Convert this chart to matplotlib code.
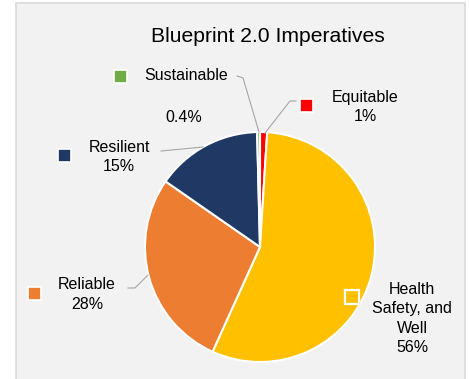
import matplotlib
matplotlib.use("Agg")
import matplotlib.pyplot as plt
from matplotlib.patches import Rectangle

plt.rcParams['font.family'] = ['Liberation Sans', 'DejaVu Sans']

# Data (clockwise from 12 o'clock)
categories = ["Equitable", "Health\nSafety, and\nWell", "Reliable", "Resilient", "Sustainable"]
values = [1, 56, 28, 15, 0.4]
pct_labels = ["1%", "56%", "28%", "15%", "0.4%"]
colors = ["#ff0000", "#ffc000", "#ed7d31", "#1f3864", "#70ad47"]
title = "Blueprint 2.0 Imperatives"

W, H = 469, 379
fig = plt.figure(figsize=(W / 100, H / 100), dpi=100)
ax = fig.add_axes([0, 0, 1, 1])
ax.set_xlim(0, W)
ax.set_ylim(0, H)
ax.set_aspect('equal')
ax.axis('off')


def Y(y):
    # convert a top-down pixel row to axes coordinate
    return H - y


# chart panel
ax.add_patch(Rectangle((16, Y(390)), 449, 387, facecolor="#f2f2f2",
                       edgecolor="#d9d9d9", lw=1.2, zorder=0))

ax.text(268, Y(37), title, fontsize=15.2, ha='center', va='center', color='#000000')

ax.pie(values, colors=colors, startangle=90, counterclock=False,
       center=(260, Y(247)), radius=115, frame=True,
       wedgeprops=dict(edgecolor='white', linewidth=1.5))
ax.set_xlim(0, W)
ax.set_ylim(0, H)
ax.axis('off')

fs = 11.5
ls = 1.36
lead = dict(color="#a6a6a6", lw=0.8, zorder=3)


def key(cx, cy, color, size=13, lw=1.2):
    ax.add_patch(Rectangle((cx - size / 2, Y(cy) - size / 2), size, size,
                           facecolor=color, edgecolor='white', lw=lw, zorder=4))


# Equitable
key(306, 105, colors[0])
ax.text(365, Y(107), categories[0] + "\n" + pct_labels[0], fontsize=fs,
        ha='center', va='center', linespacing=ls)
ax.plot([265, 290, 296], [Y(133), Y(101), Y(101)], **lead)

# Health, Safety, and Well
key(352, 297, colors[1], size=13.5, lw=1.6)
ax.text(412, Y(318.5), categories[1] + "\n" + pct_labels[1], fontsize=fs,
        ha='center', va='center', linespacing=ls)

# Reliable
key(34, 293, colors[2])
ax.text(87, Y(294.5), categories[2] + "\n" + pct_labels[2], fontsize=fs,
        ha='center', va='center', linespacing=ls)
ax.plot([128, 135, 148], [Y(288), Y(288), Y(275)], **lead)

# Resilient
key(64, 155, colors[3])
ax.text(119, Y(157), categories[3] + "\n" + pct_labels[3], fontsize=fs,
        ha='center', va='center', linespacing=ls)
ax.plot([161, 203], [Y(151), Y(147)], **lead)

# Sustainable
key(120, 76, colors[4])
ax.text(186, Y(76), categories[4], fontsize=fs, ha='center', va='center')
ax.text(184, Y(117), pct_labels[4], fontsize=fs, ha='center', va='center')
ax.plot([237, 243, 259], [Y(76), Y(78), Y(132)], **lead)

fig.savefig("out.png", dpi=100, facecolor='white')
